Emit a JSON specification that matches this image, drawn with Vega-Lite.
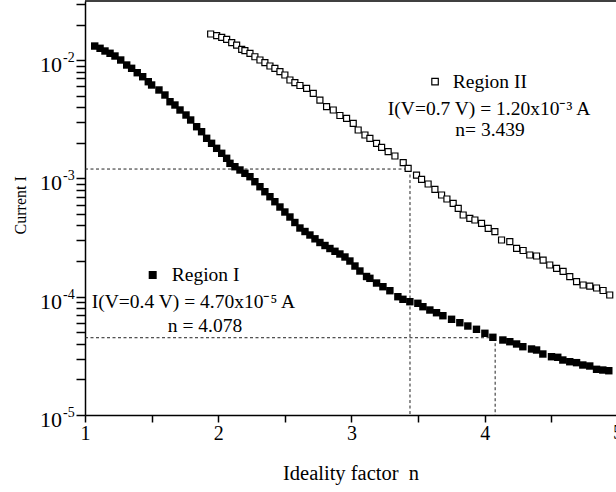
{
  "$schema": "https://vega.github.io/schema/vega-lite/v6.json",
  "width": 531,
  "height": 414,
  "autosize": {"type": "none"},
  "padding": {"left": 85, "top": 1, "right": 0, "bottom": 77},
  "background": "white",
  "config": {"view": {"stroke": null}, "font": "Liberation Serif"},
  "datasets": {
    "r1": [
      {"n":1.073,"I":0.01315},{"n":1.113,"I":0.01258},{"n":1.150,"I":0.01194},{"n":1.188,"I":0.01142},{"n":1.225,"I":0.01083},
      {"n":1.268,"I":0.01002},{"n":1.313,"I":0.009091},{"n":1.350,"I":0.008524},{"n":1.392,"I":0.007825},{"n":1.433,"I":0.007238},
      {"n":1.475,"I":0.006569},{"n":1.500,"I":0.006161},{"n":1.555,"I":0.005591},{"n":1.600,"I":0.005070},{"n":1.638,"I":0.004449},
      {"n":1.675,"I":0.004173},{"n":1.713,"I":0.003787},{"n":1.758,"I":0.003435},{"n":1.793,"I":0.003117},{"n":1.838,"I":0.002735},
      {"n":1.875,"I":0.002482},{"n":1.913,"I":0.002183},{"n":1.950,"I":0.001980},{"n":1.988,"I":0.001796},{"n":2.026,"I":0.001630},
      {"n":2.063,"I":0.001479},{"n":2.088,"I":0.001341},{"n":2.125,"I":0.001256},{"n":2.163,"I":0.001178},{"n":2.200,"I":0.001104},
      {"n":2.238,"I":0.001034},{"n":2.275,"I":0.0009378},{"n":2.313,"I":0.0008507},{"n":2.350,"I":0.0007717},{"n":2.388,"I":0.0007002},
      {"n":2.425,"I":0.0006353},{"n":2.463,"I":0.0005731},{"n":2.500,"I":0.0005200},{"n":2.538,"I":0.0004718},{"n":2.575,"I":0.0004239},
      {"n":2.613,"I":0.0003808},{"n":2.651,"I":0.0003557},{"n":2.688,"I":0.0003323},{"n":2.726,"I":0.0003086},{"n":2.763,"I":0.0002872},
      {"n":2.801,"I":0.0002709},{"n":2.838,"I":0.0002555},{"n":2.876,"I":0.0002420},{"n":2.913,"I":0.0002296},{"n":2.951,"I":0.0002166},
      {"n":2.988,"I":0.0002003},{"n":3.026,"I":0.0001817},{"n":3.063,"I":0.0001649},{"n":3.113,"I":0.0001482},{"n":3.138,"I":0.0001430},
      {"n":3.188,"I":0.0001305},{"n":3.236,"I":0.0001215},{"n":3.288,"I":0.0001124},{"n":3.348,"I":0.0001000},{"n":3.386,"I":0.00009506},
      {"n":3.438,"I":0.00009073},{"n":3.498,"I":0.00008795},{"n":3.536,"I":0.00008233},{"n":3.588,"I":0.00007717},{"n":3.638,"I":0.00007322},
      {"n":3.686,"I":0.00006906},{"n":3.751,"I":0.00006442},{"n":3.813,"I":0.00006029},{"n":3.873,"I":0.00005653},{"n":3.938,"I":0.00005302},
      {"n":4.001,"I":0.00004905},{"n":4.061,"I":0.00004537},{"n":4.136,"I":0.00004305},{"n":4.188,"I":0.00004165},{"n":4.239,"I":0.00003984},
      {"n":4.286,"I":0.00003779},{"n":4.351,"I":0.00003614},{"n":4.389,"I":0.00003543},{"n":4.436,"I":0.00003278},{"n":4.501,"I":0.00003110},
      {"n":4.548,"I":0.00003074},{"n":4.586,"I":0.00002916},{"n":4.638,"I":0.00002821},{"n":4.689,"I":0.00002770},{"n":4.736,"I":0.00002646},
      {"n":4.788,"I":0.00002595},{"n":4.839,"I":0.00002433},{"n":4.886,"I":0.00002400},{"n":4.931,"I":0.00002367}
    ],
    "r2": [
      {"n":1.943,"I":0.01662},{"n":1.988,"I":0.01608},{"n":2.026,"I":0.01559},{"n":2.063,"I":0.01499},{"n":2.101,"I":0.01403},
      {"n":2.138,"I":0.01341},{"n":2.176,"I":0.01234},{"n":2.200,"I":0.01201},{"n":2.238,"I":0.01142},{"n":2.275,"I":0.01068},
      {"n":2.313,"I":0.01002},{"n":2.350,"I":0.009506},{"n":2.388,"I":0.008916},{"n":2.425,"I":0.008524},{"n":2.463,"I":0.007980},
      {"n":2.500,"I":0.007482},{"n":2.538,"I":0.006788},{"n":2.575,"I":0.006442},{"n":2.613,"I":0.006102},{"n":2.663,"I":0.005778},
      {"n":2.713,"I":0.005241},{"n":2.763,"I":0.004598},{"n":2.813,"I":0.004037},{"n":2.863,"I":0.003787},{"n":2.913,"I":0.003401},
      {"n":2.963,"I":0.003221},{"n":3.013,"I":0.002921},{"n":3.050,"I":0.002565},{"n":3.101,"I":0.002327},{"n":3.138,"I":0.002183},
      {"n":3.188,"I":0.001980},{"n":3.226,"I":0.001832},{"n":3.275,"I":0.001681},{"n":3.326,"I":0.001546},{"n":3.388,"I":0.001357},
      {"n":3.425,"I":0.001217},{"n":3.488,"I":0.001068},{"n":3.526,"I":0.0009826},{"n":3.575,"I":0.0008967},{"n":3.626,"I":0.0008086},
      {"n":3.676,"I":0.0007239},{"n":3.716,"I":0.0006695},{"n":3.763,"I":0.0006161},{"n":3.801,"I":0.0005591},{"n":3.838,"I":0.0004905},
      {"n":3.888,"I":0.0004600},{"n":3.926,"I":0.0004449},{"n":3.976,"I":0.0004173},{"n":4.026,"I":0.0003787},{"n":4.076,"I":0.0003543},
      {"n":4.126,"I":0.0003015},{"n":4.188,"I":0.0002916},{"n":4.239,"I":0.0002565},{"n":4.288,"I":0.0002457},{"n":4.338,"I":0.0002252},
      {"n":4.389,"I":0.0002208},{"n":4.438,"I":0.0002042},{"n":4.488,"I":0.0001853},{"n":4.539,"I":0.0001738},{"n":4.588,"I":0.0001639},
      {"n":4.638,"I":0.0001476},{"n":4.689,"I":0.0001339},{"n":4.738,"I":0.0001256},{"n":4.788,"I":0.0001231},{"n":4.839,"I":0.0001185},
      {"n":4.888,"I":0.0001128},{"n":4.938,"I":0.0001034}
    ],
    "guides": [
      {"x":1,"x2":3.439,"y":0.0012,"y2":0.0012},
      {"x":3.439,"x2":3.439,"y":0.0012,"y2":0.00001},
      {"x":1,"x2":4.078,"y":0.000045,"y2":0.000045},
      {"x":4.078,"x2":4.078,"y":0.000045,"y2":0.00001}
    ],
    "decades": [
      {"I":0.01,"e":"-2"},{"I":0.001,"e":"-3"},{"I":0.0001,"e":"-4"},{"I":0.00001,"e":"-5"}
    ],
    "one": [{}]
  },
  "layer": [
    {
      "data": {"name": "guides"},
      "mark": {"type": "rule", "strokeDash": [3, 2.5], "strokeWidth": 1, "color": "#222"},
      "encoding": {
        "x": {"field": "x", "type": "quantitative",
          "scale": {"domain": [1, 4.985], "nice": false, "zero": false},
          "axis": {
            "values": [1, 1.5, 2, 2.5, 3, 3.5, 4, 4.5],
            "labelExpr": "datum.value % 1 == 0 ? format(datum.value, 'd') : ''",
            "labelFlush": false, "labelOverlap": false,
            "tickSize": 7, "labelPadding": 1,
            "tickColor": "black", "tickWidth": 1.5,
            "domainColor": "black", "domainWidth": 1.5,
            "grid": false,
            "labelFont": "Liberation Serif", "labelFontSize": 20, "labelColor": "black",
            "title": "Ideality factor\u00a0 n",
            "titleFont": "Liberation Serif", "titleFontSize": 20.5, "titleFontWeight": "normal", "titleColor": "black",
            "titleBaseline": "middle", "titleY": 58,
            "encode": {"ticks": {"update": {"y2": {"signal": "datum.value % 1 == 0 ? 7 : 4"}}}}
          }
        },
        "x2": {"field": "x2"},
        "y": {"field": "y", "type": "quantitative",
          "scale": {"type": "log", "domain": [0.00001, 0.0316], "nice": false},
          "axis": {
            "values": [0.00001,0.00002,0.00003,0.00004,0.00005,0.00006,0.00007,0.00008,0.00009,
                       0.0001,0.0002,0.0003,0.0004,0.0005,0.0006,0.0007,0.0008,0.0009,
                       0.001,0.002,0.003,0.004,0.005,0.006,0.007,0.008,0.009,
                       0.01,0.02,0.03],
            "labels": false,
            "tickSize": 9,
            "tickColor": "black", "tickWidth": 1.5,
            "domainColor": "black", "domainWidth": 1.5,
            "grid": false,
            "title": null,
            "encode": {"ticks": {"update": {"x2": {"signal": "abs(log(datum.value)/LN10 - round(log(datum.value)/LN10)) < 0.001 ? -9 : -5"}}}}
          }
        },
        "y2": {"field": "y2"}
      }
    },
    {
      "data": {"name": "one"},
      "mark": {"type": "rule", "color": "black", "strokeWidth": 1.5},
      "encoding": {"y": {"datum": 0.0316, "type": "quantitative"}}
    },
    {
      "data": {"name": "one"},
      "mark": {"type": "text", "text": "Current I", "angle": 270, "align": "center", "baseline": "middle", "dx": 0, "dy": -64, "fontSize": 16, "font": "Liberation Serif", "color": "black"},
      "encoding": {"x": {"datum": 1}, "y": {"datum": 0.000592}}
    },
    {
      "data": {"name": "decades"},
      "mark": {"type": "text", "text": "10", "align": "right", "baseline": "middle", "dx": -23, "dy": 5, "fontSize": 22, "font": "Liberation Serif", "color": "black"},
      "encoding": {"x": {"datum": 1}, "y": {"field": "I", "type": "quantitative"}}
    },
    {
      "data": {"name": "decades"},
      "mark": {"type": "text", "align": "left", "baseline": "middle", "dx": -22, "dy": -2, "fontSize": 14, "font": "Liberation Serif", "color": "black"},
      "encoding": {"x": {"datum": 1}, "y": {"field": "I", "type": "quantitative"}, "text": {"field": "e"}}
    },
    {
      "data": {"name": "r1"},
      "mark": {"type": "point", "shape": "square", "filled": true, "color": "black", "size": 55, "opacity": 1},
      "encoding": {"x": {"field": "n", "type": "quantitative"}, "y": {"field": "I", "type": "quantitative"}}
    },
    {
      "data": {"name": "r2"},
      "mark": {"type": "point", "shape": "square", "filled": false, "fill": "white", "stroke": "black", "strokeWidth": 1.2, "size": 36, "opacity": 1},
      "encoding": {"x": {"field": "n", "type": "quantitative"}, "y": {"field": "I", "type": "quantitative"}}
    },
    {
      "data": {"name": "one"},
      "mark": {"type": "point", "shape": "square", "filled": true, "color": "black", "size": 64, "opacity": 1},
      "encoding": {"x": {"datum": 1.508}, "y": {"datum": 0.0001525}}
    },
    {
      "data": {"name": "one"},
      "mark": {"type": "text", "text": "Region I", "align": "left", "baseline": "middle", "fontSize": 19.5, "font": "Liberation Serif", "color": "black"},
      "encoding": {"x": {"datum": 1.651}, "y": {"datum": 0.0001525}}
    },
    {
      "data": {"name": "one"},
      "mark": {"type": "text", "text": "I(V=0.4 V) = 4.70x10⁻⁵ A", "align": "center", "baseline": "middle", "fontSize": 19.5, "font": "Liberation Serif", "color": "black"},
      "encoding": {"x": {"datum": 1.814}, "y": {"datum": 0.0000907}}
    },
    {
      "data": {"name": "one"},
      "mark": {"type": "text", "text": "n = 4.078", "align": "center", "baseline": "middle", "fontSize": 19.5, "font": "Liberation Serif", "color": "black"},
      "encoding": {"x": {"datum": 1.901}, "y": {"datum": 0.0000569}}
    },
    {
      "data": {"name": "one"},
      "mark": {"type": "point", "shape": "square", "filled": false, "fill": "white", "stroke": "black", "strokeWidth": 1.2, "size": 42, "opacity": 1},
      "encoding": {"x": {"datum": 3.627}, "y": {"datum": 0.00657}}
    },
    {
      "data": {"name": "one"},
      "mark": {"type": "text", "text": "Region II", "align": "left", "baseline": "middle", "fontSize": 19.5, "font": "Liberation Serif", "color": "black"},
      "encoding": {"x": {"datum": 3.760}, "y": {"datum": 0.00657}}
    },
    {
      "data": {"name": "one"},
      "mark": {"type": "text", "text": "I(V=0.7 V) = 1.20x10⁻³ A", "align": "center", "baseline": "middle", "fontSize": 19.5, "font": "Liberation Serif", "color": "black"},
      "encoding": {"x": {"datum": 4.032}, "y": {"datum": 0.00386}}
    },
    {
      "data": {"name": "one"},
      "mark": {"type": "text", "text": "n= 3.439", "align": "center", "baseline": "middle", "fontSize": 19.5, "font": "Liberation Serif", "color": "black"},
      "encoding": {"x": {"datum": 4.040}, "y": {"datum": 0.002565}}
    },
    {
      "data": {"name": "one"},
      "mark": {"type": "text", "text": "5", "align": "center", "baseline": "top", "dy": 8, "fontSize": 20, "font": "Liberation Serif", "color": "black"},
      "encoding": {"x": {"datum": 5}, "y": {"datum": 0.00001}}
    }
  ]
}
